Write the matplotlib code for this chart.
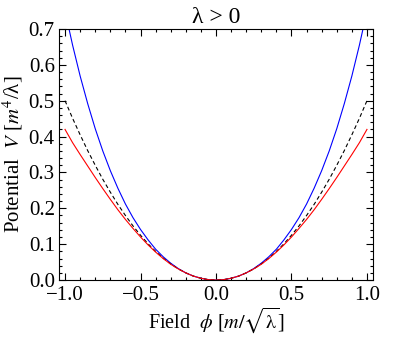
# Effective potential curves for lambda > 0

import numpy as np
import matplotlib
matplotlib.use('Agg')
import matplotlib.pyplot as plt
from matplotlib.ticker import MultipleLocator

# field values (units of m/sqrt(lambda))
phi = [-1.0, -0.95, -0.9, -0.85, -0.8, -0.75, -0.7, -0.65, -0.6, -0.55, -0.5,
       -0.45, -0.4, -0.35, -0.3, -0.25, -0.2, -0.15, -0.1, -0.05, 0.0,
       0.05, 0.1, 0.15, 0.2, 0.25, 0.3, 0.35, 0.4, 0.45, 0.5,
       0.55, 0.6, 0.65, 0.7, 0.75, 0.8, 0.85, 0.9, 0.95, 1.0]

# blue curve (goes above the frame near the ends)
v_blue = [0.75, 0.655, 0.569, 0.492, 0.422, 0.360, 0.305, 0.256, 0.212, 0.174, 0.141,
          0.112, 0.086, 0.065, 0.047, 0.032, 0.020, 0.011, 0.005, 0.001, 0.0,
          0.001, 0.005, 0.011, 0.020, 0.032, 0.047, 0.065, 0.086, 0.112, 0.141,
          0.174, 0.212, 0.256, 0.305, 0.360, 0.422, 0.492, 0.569, 0.655, 0.75]

# black dashed curve
v_dash = [0.5, 0.451, 0.405, 0.361, 0.32, 0.281, 0.245, 0.211, 0.18, 0.151, 0.125,
          0.101, 0.08, 0.061, 0.045, 0.031, 0.02, 0.011, 0.005, 0.001, 0.0,
          0.001, 0.005, 0.011, 0.02, 0.031, 0.045, 0.061, 0.08, 0.101, 0.125,
          0.151, 0.18, 0.211, 0.245, 0.281, 0.32, 0.361, 0.405, 0.451, 0.5]

# red curve
v_red = [0.42, 0.383, 0.350, 0.318, 0.286, 0.255, 0.225, 0.196, 0.169, 0.144, 0.120,
         0.098, 0.078, 0.060, 0.044, 0.031, 0.020, 0.011, 0.005, 0.001, 0.0,
         0.001, 0.005, 0.011, 0.020, 0.031, 0.044, 0.060, 0.078, 0.098, 0.120,
         0.144, 0.169, 0.196, 0.225, 0.255, 0.286, 0.318, 0.350, 0.383, 0.42]

plt.rcParams['font.family'] = ['Liberation Serif', 'DejaVu Serif']
plt.rcParams['mathtext.fontset'] = 'stix'

fig = plt.figure(figsize=(4.0, 3.37), dpi=100)
ax = fig.add_axes([0.1475, 0.169, 0.785, 0.745])

ax.plot(phi, v_blue, color='blue', lw=0.8)
ax.plot(phi, v_dash, color='black', lw=0.8, dashes=(3.5, 2.5))
ax.plot(phi, v_red, color='red', lw=0.8)

ax.set_xlim(-1.04, 1.04)
ax.set_ylim(0, 0.7)
ax.xaxis.set_major_locator(MultipleLocator(0.5))
ax.xaxis.set_minor_locator(MultipleLocator(0.1))
ax.yaxis.set_major_locator(MultipleLocator(0.1))
ax.yaxis.set_minor_locator(MultipleLocator(0.02))
ax.xaxis.set_major_formatter(plt.FuncFormatter(lambda v, p: ('%.1f' % v).replace('-', '\u2212')))
ax.yaxis.set_major_formatter(plt.FuncFormatter(lambda v, p: '%.1f' % v))
ax.tick_params(which='both', direction='in', top=True, right=True, width=0.8, labelsize=15)
ax.tick_params(which='major', length=5)
ax.tick_params(which='minor', length=2.5)
ax.tick_params(axis='x', pad=4.5)
ax.tick_params(axis='y', pad=3)
for s in ax.spines.values():
    s.set_linewidth(0.8)

ax.set_title('λ > 0', fontsize=17, pad=4)
ax.set_xlabel(r'Field  $\phi$ [$m/\sqrt{\mathrm{\lambda}}$]', fontsize=14.5, labelpad=0)
ax.set_ylabel(r'Potential  $V$ [$m^4$/λ]', fontsize=15, labelpad=3)

fig.savefig('out.png', dpi=100)
